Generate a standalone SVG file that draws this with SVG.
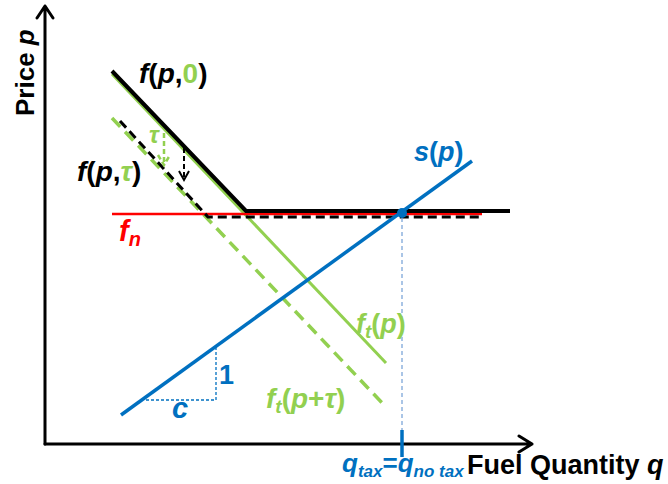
<svg xmlns="http://www.w3.org/2000/svg" width="668" height="484" viewBox="0 0 668 484">
<style>
text{font-family:"Liberation Sans",Arial,sans-serif;font-weight:bold}
.i{font-style:italic}
.k{fill:#000}
.g{fill:#92d050}
.b{fill:#0070c0}
.r{fill:#ff0000}
.ax{stroke:#000;stroke-width:3;fill:none;stroke-linecap:round;stroke-linejoin:round}
</style>
<rect width="668" height="484" fill="#fff"/>
<g id="connectors" fill="none">
  <path class="ax" d="M45,444 V6 M37,18 L45,6 L53,18"/>
  <path class="ax" d="M45,444 H532 M519,436 L532,444 L519,452"/>
  <line id="ft" x1="112" y1="74" x2="386" y2="363" stroke="#92d050" stroke-width="3"/>
  <line id="ftt" x1="112" y1="118" x2="386" y2="407" stroke="#92d050" stroke-width="3.5" stroke-dasharray="12 7"/>
  <line id="fn" x1="112" y1="214" x2="482" y2="214" stroke="#ff0000" stroke-width="2.5"/>
  <path id="f0" d="M112,71 L246,211 H510" stroke="#000" stroke-width="4"/>
  <path id="ftau" d="M120,121 L208,217 H480" stroke="#000" stroke-width="3" stroke-dasharray="9 5"/>
  <line id="sp" x1="121" y1="415" x2="472" y2="161" stroke="#0070c0" stroke-width="3.5"/>
  <line x1="402" y1="218" x2="402" y2="444" stroke="#7da7d9" stroke-width="1.3" stroke-dasharray="4 3"/>
  <line x1="402" y1="430" x2="402" y2="457" stroke="#0070c0" stroke-width="3.5"/>
  <path d="M216,347 V400 H145" stroke="#0070c0" stroke-width="1.3" stroke-dasharray="3 2"/>
  <path d="M164,133 V163 M158,155 L164,165 L170,155" stroke="#92d050" stroke-width="2.5" stroke-dasharray="5 3"/>
  <path d="M184,148 V178" stroke="#000" stroke-width="2" stroke-dasharray="5 3"/>
  <path d="M179,171 L184,180 L189,171" stroke="#000" stroke-width="2"/>
  <circle cx="402" cy="213" r="5" fill="#0070c0"/>
</g>
<g id="labels">
  <g id="lbl-f0"><text x="139" y="83" font-size="28" class="k"><tspan class="i">f</tspan>(<tspan class="i">p</tspan>,<tspan class="g">0</tspan>)</text></g>
  <g id="lbl-ftau"><text x="77" y="181" font-size="28" class="k"><tspan class="i">f</tspan>(<tspan class="i">p</tspan>,<tspan class="g i">τ</tspan>)</text></g>
  <g id="lbl-tau"><text x="149" y="143" font-size="24" class="g i">τ</text></g>
  <g id="lbl-fn"><text x="119" y="241" font-size="29" class="r i">f<tspan font-size="20" dy="5">n</tspan></text></g>
  <g id="lbl-sp"><text x="414" y="161" font-size="27" class="b"><tspan class="i">s</tspan>(<tspan class="i">p</tspan>)</text></g>
  <g id="lbl-ftp"><text x="356" y="333" font-size="27" class="g"><tspan class="i">f</tspan><tspan class="i" font-size="19" dy="5">t</tspan><tspan dy="-5">(</tspan><tspan class="i">p</tspan>)</text></g>
  <g id="lbl-ftpt"><text x="266" y="408" font-size="28" class="g"><tspan class="i">f</tspan><tspan class="i" font-size="19" dy="5">t</tspan><tspan dy="-5">(</tspan><tspan class="i">p</tspan>+<tspan class="i">τ</tspan>)</text></g>
  <g id="lbl-1"><text x="219" y="384" font-size="27" class="b">1</text></g>
  <g id="lbl-c"><text x="172" y="418" font-size="29" class="b i">c</text></g>
  <g id="lbl-q"><text x="342" y="472" font-size="26" class="b i">q<tspan font-size="17" dy="5">tax</tspan><tspan dy="-5" font-style="normal">=</tspan>q<tspan font-size="17" dy="5">no tax</tspan></text></g>
  <g id="lbl-xaxis"><text x="467" y="474" font-size="27" class="k">Fuel Quantity <tspan class="i">q</tspan></text></g>
  <g id="lbl-yaxis"><text transform="translate(34,116) rotate(-90)" font-size="26" class="k">Price <tspan class="i">p</tspan></text></g>
</g>
</svg>
